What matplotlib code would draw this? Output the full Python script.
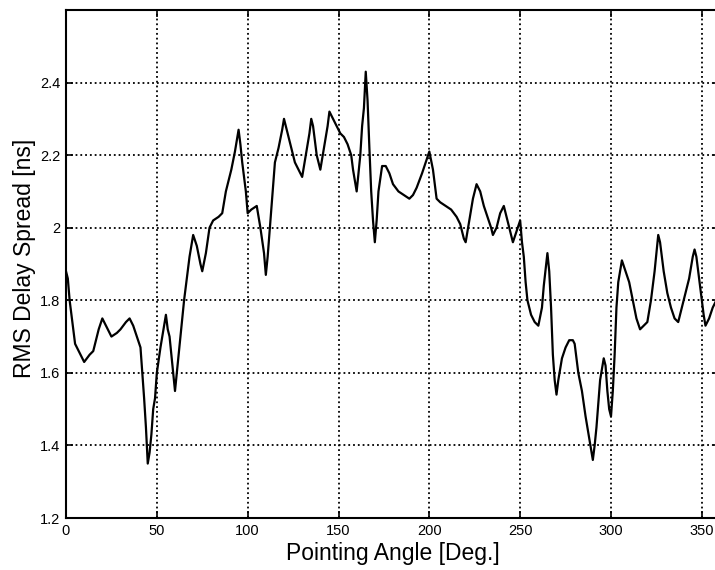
import matplotlib
matplotlib.use("Agg")
import matplotlib.pyplot as plt
from matplotlib.ticker import FuncFormatter

plt.rcParams['font.family'] = ['Liberation Sans', 'DejaVu Sans']

angles = [0, 1, 2, 4, 5, 8, 10, 13, 15, 18, 20, 22, 25, 28, 30, 33, 35, 37, 39, 41,
          42, 43, 44, 45, 46, 47, 48, 49, 50, 52, 53, 55, 56, 57, 58, 59, 60, 61, 62, 64,
          65, 67, 68, 70, 72, 74, 75, 77, 79, 81, 84, 86, 88, 91, 93, 95, 96, 97, 99, 100,
          102, 105, 107, 109, 110, 111, 113, 115, 117, 119, 120, 122, 124, 126, 128, 130, 132, 134, 135, 136,
          138, 140, 142, 144, 145, 147, 149, 151, 153, 155, 157, 158, 160, 161, 162, 163, 164, 165, 166, 167,
          168, 169, 170, 171, 172, 174, 176, 178, 180, 183, 186, 189, 191, 193, 196, 198, 200, 202, 203, 204,
          206, 209, 212, 215, 217, 219, 220, 222, 224, 226, 228, 230, 232, 234, 235, 237, 239, 241, 243, 245,
          246, 248, 250, 251, 252, 253, 254, 256, 258, 260, 262, 263, 265, 266, 267, 268, 269, 270, 271, 273,
          275, 277, 279, 280, 282, 284, 286, 288, 290, 291, 292, 294, 296, 297, 298, 299, 300, 301, 302, 303,
          304, 306, 308, 310, 312, 314, 316, 318, 320, 322, 324, 326, 327, 329, 331, 333, 335, 337, 339, 341,
          343, 345, 346, 347, 349, 351, 352, 354, 356, 358, 360]
rms_delay = [1.88, 1.86, 1.80, 1.72, 1.68, 1.65, 1.63, 1.65, 1.66, 1.72, 1.75, 1.73, 1.70, 1.71, 1.72, 1.74, 1.75, 1.73, 1.70, 1.67,
             1.60, 1.53, 1.45, 1.35, 1.38, 1.43, 1.50, 1.53, 1.60, 1.67, 1.70, 1.76, 1.72, 1.70, 1.65, 1.60, 1.55, 1.60, 1.65, 1.75,
             1.80, 1.88, 1.92, 1.98, 1.95, 1.90, 1.88, 1.93, 2.00, 2.02, 2.03, 2.04, 2.10, 2.16, 2.21, 2.27, 2.23, 2.18, 2.10, 2.04,
             2.05, 2.06, 2.00, 1.93, 1.87, 1.92, 2.05, 2.18, 2.22, 2.27, 2.30, 2.26, 2.22, 2.18, 2.16, 2.14, 2.20, 2.26, 2.30, 2.28,
             2.20, 2.16, 2.22, 2.28, 2.32, 2.30, 2.28, 2.26, 2.25, 2.23, 2.20, 2.16, 2.10, 2.15, 2.20, 2.28, 2.33, 2.43, 2.35, 2.22,
             2.10, 2.02, 1.96, 2.02, 2.10, 2.17, 2.17, 2.15, 2.12, 2.10, 2.09, 2.08, 2.09, 2.11, 2.15, 2.18, 2.21, 2.16, 2.12, 2.08,
             2.07, 2.06, 2.05, 2.03, 2.01, 1.97, 1.96, 2.02, 2.08, 2.12, 2.10, 2.06, 2.03, 2.00, 1.98, 2.00, 2.04, 2.06, 2.02, 1.98,
             1.96, 1.99, 2.02, 1.96, 1.92, 1.85, 1.80, 1.76, 1.74, 1.73, 1.78, 1.84, 1.93, 1.88, 1.78, 1.65, 1.58, 1.54, 1.58, 1.64,
             1.67, 1.69, 1.69, 1.68, 1.60, 1.55, 1.48, 1.42, 1.36, 1.40, 1.45, 1.58, 1.64, 1.62, 1.55, 1.50, 1.48, 1.55, 1.65, 1.78,
             1.85, 1.91, 1.88, 1.85, 1.80, 1.75, 1.72, 1.73, 1.74, 1.80, 1.88, 1.98, 1.96, 1.88, 1.82, 1.78, 1.75, 1.74, 1.78, 1.82,
             1.86, 1.92, 1.94, 1.92, 1.84, 1.76, 1.73, 1.75, 1.78, 1.80, 1.84]

x_ticks = [0, 50, 100, 150, 200, 250, 300, 350]
y_ticks = [1.2, 1.4, 1.6, 1.8, 2.0, 2.2, 2.4]
x_label = "Pointing Angle [Deg.]"
y_label = "RMS Delay Spread [ns]"

fig = plt.figure(figsize=(7.15, 5.70), dpi=100)
ax = fig.add_axes([66/715, 52/570, 654/715, 508/570])
ax.plot(angles, rms_delay, color='black', linewidth=1.6)
ax.set_xlim(0, 360)
ax.set_ylim(1.2, 2.6)
ax.set_xticks(x_ticks)
ax.set_yticks(y_ticks)
ax.yaxis.set_major_formatter(FuncFormatter(lambda v, p: f"{v:g}"))
ax.grid(True, linestyle=':', color='black', linewidth=1.3)
ax.tick_params(direction='in', top=True, right=True, length=5, width=1.2,
               labelsize=10.5, pad=4)
for s in ax.spines.values():
    s.set_linewidth(1.5)
ax.set_xlabel(x_label, fontsize=16.5, labelpad=3)
ax.set_ylabel(y_label, fontsize=16.5)
ax.yaxis.set_label_coords(-0.046, 0.512)
fig.savefig("out.png", dpi=100)
